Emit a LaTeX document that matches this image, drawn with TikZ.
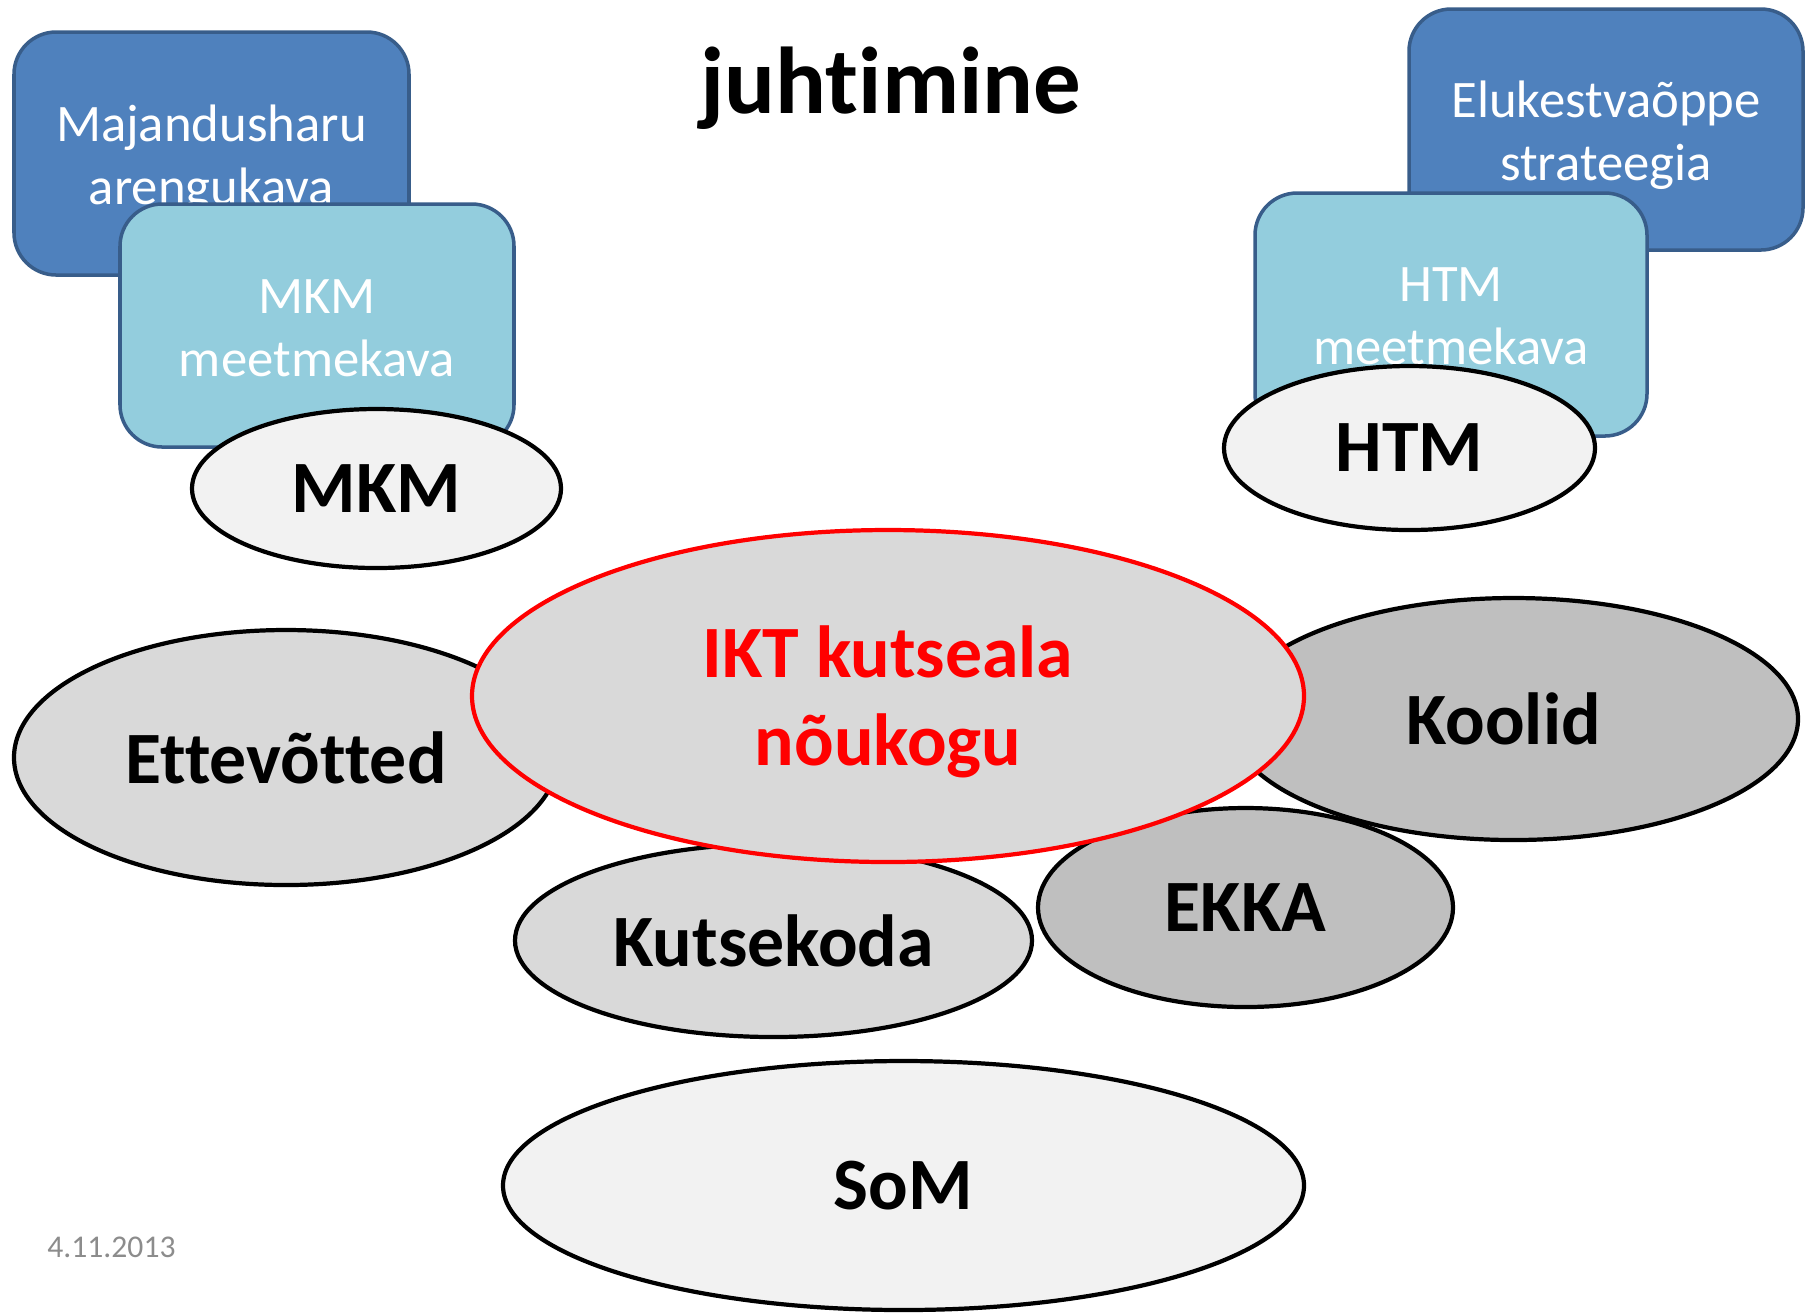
\documentclass[tikz,border=0pt]{standalone}
\usepackage{fontspec}
\setmainfont{Carlito}[Ligatures=NoCommon]
\usepackage{tikz}
\usetikzlibrary{shapes,positioning}
\definecolor{darkplan}{HTML}{4F81BD}
\definecolor{lightplan}{HTML}{93CDDD}
\definecolor{planedge}{HTML}{385D8A}
\definecolor{partyfill}{HTML}{D9D9D9}
\definecolor{schoolfill}{HTML}{BFBFBF}
\definecolor{ministryfill}{HTML}{F2F2F2}
\tikzset{
  every picture/.style = {
    line width = 1pt,
  }
  ,
  plan/.style = {
    rectangle,
    rounded corners = 12pt,
    draw = planedge,
    inner sep = 0pt
  }
  , % white texts of the plans
  plantext/.style = {
    text = white,
    align = center,
    inner sep = 0pt,
    font = \fontsize{15}{18}\selectfont
  }
  , % big ellipses
  party/.style = {
    ellipse,
    draw,
    line width = 1.2pt,
    inner sep = 0pt,
    font = \fontsize{21}{25}\selectfont\bfseries
  }
}
\begin{document}
\begin{tikzpicture}
\useasboundingbox (0,0) rectangle (18.10,-13.12);
% left column
\node[plan, fill=darkplan, minimum width=3.95cm, minimum height=2.43cm] at (2.115,-1.535) (maj) {};
\node[plantext] at ([yshift=-0.06cm]maj.center) (majtext) {Majandusharu\\arengukava};
\node[plan, fill=lightplan, minimum width=3.94cm, minimum height=2.43cm] at (3.17,-3.255) (mkmplan) {};
\node[plantext] at ([yshift=-0.03cm]mkmplan.center) (mkmplantext) {MKM\\meetmekava};
\node[party, fill=ministryfill, minimum width=3.69cm, minimum height=1.59cm] at (3.765,-4.885) (mkm) {MKM};
% right column
\node[plan, fill=darkplan, minimum width=3.94cm, minimum height=2.41cm] at (16.06,-1.295) (elu) {};
\node[plantext] at ([yshift=-0.06cm]elu.center) (elutext) {Elukestvaõppe\\strateegia};
\node[plan, fill=lightplan, minimum width=3.92cm, minimum height=2.43cm] at (14.51,-3.145) (htmplan) {};
\node[plantext] at ([yshift=-0.02cm]htmplan.center) (htmplantext) {HTM\\meetmekava};
\node[party, fill=ministryfill, minimum width=3.71cm, minimum height=1.64cm] at (14.095,-4.48) (htm) {HTM};
% partners round the council
\node[party, fill=partyfill, minimum width=5.44cm, minimum height=2.55cm] at (2.86,-7.575) (ettev) {Ettevõtted};
\node[party, fill=partyfill, minimum width=5.17cm, minimum height=1.93cm] at (7.735,-9.405) (kutsekoda) {Kutsekoda};
\node[party, fill=schoolfill, minimum width=5.69cm, minimum height=2.42cm] at (15.135,-7.19) (koolid) {\hspace*{-0.2cm}Koolid};
\node[party, fill=schoolfill, minimum width=4.15cm, minimum height=1.99cm] at (12.455,-9.075) (ekka) {EKKA};
\node[party, fill=partyfill, draw=red, minimum width=8.32cm, minimum height=3.32cm] at (8.88,-6.96) (ikt) {};
\node[party, draw=none, text=red, align=center] at ([yshift=-0.06cm]ikt.center) (ikttext) {IKT kutseala\\nõukogu};
\node[party, fill=ministryfill, minimum width=8.01cm, minimum height=2.49cm] at (9.035,-11.855) (som) {SoM};
% title and date
\node[anchor=base, font=\fontsize{27}{32}\selectfont\bfseries] at (8.91,-1.13) (title) {juhtimine};
\node[text=black!45, font=\fontsize{9}{11}\selectfont] at (1.115,-12.47) (date) {4.11.2013};
\end{tikzpicture}
\end{document}
